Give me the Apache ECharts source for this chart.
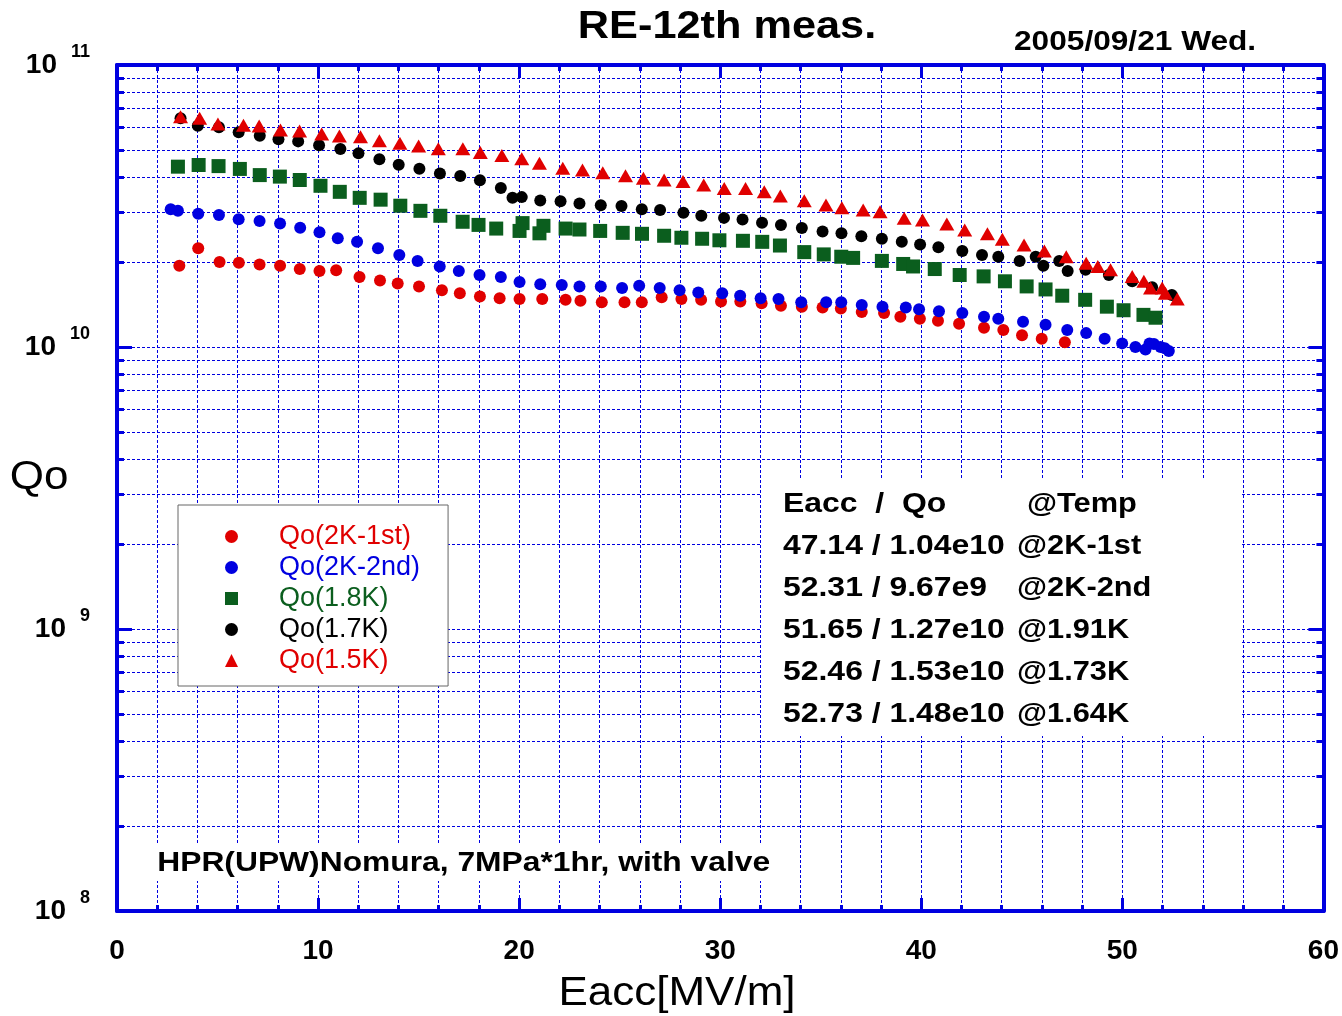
<!DOCTYPE html>
<html>
<head>
<meta charset="utf-8">
<title>RE-12th meas.</title>
<script src="https://cdn.jsdelivr.net/npm/echarts@6/dist/echarts.min.js"></script>
<style>
    html, body { margin: 0; padding: 0; background: #fff; }
    #main { width: 1342px; height: 1016px; }
</style>
</head>
<body>
<div id="main"></div>
<script>
// 测量数据 [Eacc(MV/m), Qo]
var qo2k1st = [
    [3.1, 1.94e10], [4.04, 2.24e10], [5.1, 2.00e10], [6.06, 1.99e10], [7.09, 1.96e10], [8.11, 1.94e10],
    [9.09, 1.89e10], [10.07, 1.86e10], [10.9, 1.87e10], [12.06, 1.77e10], [13.08, 1.72e10], [13.96, 1.68e10],
    [15.02, 1.64e10], [16.16, 1.59e10], [17.05, 1.55e10], [18.05, 1.51e10], [19.03, 1.49e10], [20.02, 1.48e10],
    [21.15, 1.48e10], [22.31, 1.47e10], [23.05, 1.46e10], [24.11, 1.44e10], [25.24, 1.44e10], [26.1, 1.44e10],
    [27.09, 1.50e10], [28.07, 1.48e10], [29.05, 1.47e10], [30.04, 1.45e10], [31.0, 1.45e10], [32.06, 1.43e10],
    [33.02, 1.40e10], [34.06, 1.39e10], [35.09, 1.38e10], [36.0, 1.37e10], [37.04, 1.33e10], [38.15, 1.32e10],
    [38.96, 1.28e10], [39.93, 1.26e10], [40.83, 1.24e10], [41.88, 1.21e10], [43.12, 1.17e10], [44.08, 1.15e10],
    [45.01, 1.10e10], [45.99, 1.07e10], [47.14, 1.04e10]
];
var qo2k2nd = [
    [2.67, 3.08e10], [3.03, 3.04e10], [4.04, 2.97e10], [5.07, 2.94e10], [6.05, 2.84e10], [7.09, 2.80e10],
    [8.11, 2.74e10], [9.11, 2.65e10], [10.07, 2.55e10], [10.98, 2.43e10], [11.94, 2.36e10], [12.98, 2.24e10],
    [14.04, 2.12e10], [14.95, 2.02e10], [16.05, 1.93e10], [17.0, 1.86e10], [18.03, 1.80e10], [19.09, 1.77e10],
    [20.02, 1.70e10], [21.05, 1.67e10], [22.12, 1.66e10], [23.0, 1.64e10], [24.06, 1.64e10], [25.12, 1.62e10],
    [25.97, 1.65e10], [26.99, 1.62e10], [27.98, 1.59e10], [28.91, 1.56e10], [30.1, 1.55e10], [30.99, 1.52e10],
    [32.01, 1.49e10], [32.9, 1.48e10], [34.03, 1.44e10], [35.27, 1.44e10], [36.02, 1.44e10], [37.04, 1.41e10],
    [38.07, 1.39e10], [39.23, 1.38e10], [39.89, 1.36e10], [40.88, 1.34e10], [42.04, 1.32e10], [43.12, 1.28e10],
    [43.83, 1.26e10], [45.06, 1.23e10], [46.18, 1.20e10], [47.26, 1.15e10], [48.2, 1.12e10], [49.12, 1.07e10],
    [49.99, 1.03e10], [50.65, 1.00e10], [51.15, 9.8e9], [51.35, 1.03e10], [51.57, 1.025e10], [51.9, 1.00e10],
    [52.11, 9.9e9], [52.31, 9.67e9]
];
var qo18k = [
    [3.03, 4.36e10], [4.06, 4.42e10], [5.05, 4.38e10], [6.11, 4.28e10], [7.1, 4.07e10], [8.1, 4.02e10],
    [9.09, 3.91e10], [10.12, 3.73e10], [11.08, 3.55e10], [12.07, 3.38e10], [13.11, 3.33e10], [14.09, 3.17e10],
    [15.09, 3.04e10], [16.08, 2.92e10], [17.19, 2.78e10], [17.98, 2.71e10], [18.86, 2.63e10], [20.02, 2.58e10],
    [20.17, 2.75e10], [21.01, 2.53e10], [21.21, 2.69e10], [22.31, 2.63e10], [23.0, 2.61e10], [24.03, 2.58e10],
    [25.15, 2.54e10], [26.11, 2.52e10], [27.21, 2.48e10], [28.07, 2.44e10], [29.1, 2.42e10], [29.96, 2.39e10],
    [31.13, 2.38e10], [32.09, 2.36e10], [32.97, 2.29e10], [34.18, 2.17e10], [35.15, 2.13e10], [36.02, 2.09e10],
    [36.61, 2.07e10], [38.04, 2.02e10], [39.1, 1.97e10], [39.59, 1.93e10], [40.67, 1.89e10], [41.91, 1.80e10],
    [43.1, 1.78e10], [44.16, 1.71e10], [45.24, 1.64e10], [46.18, 1.60e10], [47.01, 1.52e10], [48.15, 1.47e10],
    [49.23, 1.39e10], [50.06, 1.35e10], [51.05, 1.30e10], [51.65, 1.27e10]
];
var qo17k = [
    [3.16, 6.47e10], [4.02, 6.09e10], [5.07, 6.01e10], [6.05, 5.77e10], [7.1, 5.61e10], [8.03, 5.45e10],
    [9.01, 5.36e10], [10.05, 5.19e10], [11.11, 5.04e10], [12.01, 4.86e10], [13.05, 4.63e10], [14.01, 4.43e10],
    [15.04, 4.29e10], [16.06, 4.12e10], [17.07, 4.04e10], [18.05, 3.90e10], [19.09, 3.66e10], [19.67, 3.38e10],
    [20.13, 3.40e10], [21.05, 3.31e10], [22.06, 3.29e10], [23.0, 3.23e10], [24.06, 3.18e10], [25.09, 3.16e10],
    [26.1, 3.08e10], [27.01, 3.06e10], [28.17, 2.99e10], [29.06, 2.92e10], [30.19, 2.87e10], [31.11, 2.83e10],
    [32.08, 2.76e10], [33.02, 2.71e10], [34.06, 2.64e10], [35.09, 2.57e10], [36.03, 2.53e10], [37.02, 2.47e10],
    [38.04, 2.42e10], [39.03, 2.36e10], [39.94, 2.31e10], [40.85, 2.26e10], [42.04, 2.19e10], [43.02, 2.12e10],
    [43.83, 2.09e10], [44.89, 2.02e10], [45.69, 2.09e10], [46.07, 1.94e10], [46.86, 2.02e10], [47.28, 1.86e10],
    [48.17, 1.88e10], [49.33, 1.80e10], [50.49, 1.71e10], [51.48, 1.63e10], [52.46, 1.53e10]
];
var qo15k = [
    [3.16, 6.56e10], [4.11, 6.47e10], [5.02, 6.18e10], [6.29, 6.12e10], [7.07, 6.08e10], [8.13, 5.88e10],
    [9.08, 5.83e10], [10.18, 5.69e10], [11.06, 5.60e10], [12.11, 5.57e10], [13.05, 5.39e10], [14.07, 5.28e10],
    [15.0, 5.16e10], [15.98, 5.05e10], [17.2, 5.05e10], [18.07, 4.89e10], [19.14, 4.78e10], [20.13, 4.65e10],
    [21.01, 4.48e10], [22.17, 4.30e10], [23.15, 4.24e10], [24.16, 4.15e10], [25.29, 4.05e10], [26.18, 3.97e10],
    [27.21, 3.91e10], [28.15, 3.86e10], [29.18, 3.75e10], [30.2, 3.65e10], [31.26, 3.65e10], [32.19, 3.55e10],
    [32.99, 3.43e10], [34.18, 3.30e10], [35.26, 3.19e10], [36.05, 3.12e10], [37.11, 3.06e10], [37.95, 3.02e10],
    [39.15, 2.86e10], [40.06, 2.82e10], [41.27, 2.73e10], [42.16, 2.60e10], [43.29, 2.52e10], [44.03, 2.41e10],
    [45.11, 2.30e10], [46.12, 2.19e10], [47.21, 2.09e10], [48.2, 1.98e10], [48.78, 1.93e10], [49.41, 1.88e10],
    [50.49, 1.78e10], [51.07, 1.71e10], [51.4, 1.62e10], [51.98, 1.62e10], [52.14, 1.55e10], [52.73, 1.48e10]
];

var seriesNames = ['Qo(2K-1st)', 'Qo(2K-2nd)', 'Qo(1.8K)', 'Qo(1.7K)', 'Qo(1.5K)'];
var seriesData = [qo2k1st, qo2k2nd, qo18k, qo17k, qo15k];
var seriesColors = ['#e00000', '#0000e0', '#0b5e1e', '#000000', '#e00000'];
var seriesSymbols = ['circle', 'circle', 'rect', 'circle', 'triangle'];
var seriesSizes = [12, 12, 14, 12, [15, 13]];

// 结果表
var resultEacc = ['47.14', '52.31', '51.65', '52.46', '52.73'];
var resultQo = ['1.04e10', '9.67e9', '1.27e10', '1.53e10', '1.48e10'];
var resultTemp = ['@2K-1st', '@2K-2nd', '@1.91K', '@1.73K', '@1.64K'];

var FONT = 'Liberation Sans, Arial, sans-serif';
var AXIS_BLUE = '#0000e0';

var myChart = echarts.init(document.getElementById('main'));

var leftLines = ['Eacc  /  Qo'];
resultEacc.forEach(function (e, i) {
    leftLines.push(e + ' / ' + resultQo[i]);
});

function xAxisOf(pos, main) {
    return {
        type: 'value',
        position: pos,
        min: 0,
        max: 60,
        interval: 10,
        axisLine: { show: true, onZero: false, lineStyle: { color: AXIS_BLUE, width: 4 } },
        axisTick: { show: true, inside: true, length: 13, lineStyle: { color: AXIS_BLUE, width: 3 } },
        minorTick: { show: true, splitNumber: 5, length: 6, lineStyle: { color: AXIS_BLUE, width: 3 } },
        axisLabel: {
            show: main, margin: 26,
            fontFamily: FONT, fontSize: 28, fontWeight: 'bold', color: '#000'
        },
        splitLine: { show: main, lineStyle: { color: AXIS_BLUE, width: 1, type: [3, 2] } },
        minorSplitLine: { show: main, lineStyle: { color: AXIS_BLUE, width: 1, type: [3, 2] } }
    };
}

function yAxisOf(pos, main) {
    return {
        type: 'log',
        logBase: 10,
        position: pos,
        min: 1e8,
        max: 1e11,
        axisLine: { show: true, onZero: false, lineStyle: { color: AXIS_BLUE, width: 4 } },
        axisTick: { show: true, inside: true, length: 15, lineStyle: { color: AXIS_BLUE, width: 3 } },
        minorTick: { show: true, splitNumber: 9, length: 7, lineStyle: { color: AXIS_BLUE, width: 3 } },
        axisLabel: {
            show: main, margin: 27,
            formatter: function (v) {
                return '{a|10}{b|' + Math.round(Math.log10(v)) + '}';
            },
            rich: {
                a: { fontFamily: FONT, fontSize: 28, fontWeight: 'bold', color: '#000' },
                b: { fontFamily: FONT, fontSize: 18, fontWeight: 'bold', color: '#000', padding: [0, 0, 26, 14] }
            }
        },
        splitLine: { show: main, lineStyle: { color: AXIS_BLUE, width: 1, type: [3, 2] } },
        minorSplitLine: { show: main, lineStyle: { color: AXIS_BLUE, width: 1, type: [3, 2] } }
    };
}

// 文字(横向拉宽以贴近原图字形)
function label(x, y, text, size, bold, sx, extra) {
    var style = {
        text: text, fontFamily: FONT, fontSize: size, fontWeight: bold ? 'bold' : 'normal',
        fill: '#000', verticalAlign: 'middle'
    };
    for (var k in extra) {
        style[k] = extra[k];
    }
    return { type: 'text', z: 6, x: x, y: y, scaleX: sx, style: style };
}

var option = {
    animation: false,
    backgroundColor: '#fff',
    grid: { left: 117, top: 65, right: 17, bottom: 105 },
    xAxis: [xAxisOf('bottom', true), xAxisOf('top', false)],
    yAxis: [yAxisOf('left', true), yAxisOf('right', false)],
    legend: {
        orient: 'vertical',
        left: 178,
        top: 505,
        padding: [18, 28, 12, 47],
        itemGap: 4,
        itemWidth: 13,
        itemHeight: 13,
        backgroundColor: '#fff',
        borderColor: '#666',
        borderWidth: 1,
        textStyle: { fontFamily: FONT, fontSize: 27, lineHeight: 25, padding: [0, 0, 0, 36] },
        data: seriesNames.map(function (name, i) {
            return {
                name: name,
                icon: seriesSymbols[i],
                itemStyle: { color: seriesColors[i] },
                textStyle: { color: seriesColors[i] }
            };
        })
    },
    graphic: [
        // 结果表背景
        { type: 'rect', z: 5, shape: { x: 762, y: 480, width: 478, height: 256 }, style: { fill: '#fff' } },
        label(783, 483, leftLines.join('\n'), 28, true, 1.14, { verticalAlign: 'top', lineHeight: 42 }),
        label(1027, 483, '@Temp', 28, true, 1.1, { verticalAlign: 'top', lineHeight: 42 }),
        label(1017, 525, resultTemp.join('\n'), 28, true, 1.1, { verticalAlign: 'top', lineHeight: 42 }),
        label(155, 863, 'HPR(UPW)Nomura, 7MPa*1hr, with valve', 28, true, 1.135,
            { backgroundColor: '#fff', padding: [4, 2, 4, 2] }),
        label(727, 27, 'RE-12th meas.', 39, true, 1.11, { align: 'center' }),
        label(1014, 42, '2005/09/21 Wed.', 28, true, 1.13, {}),
        label(677, 994, 'Eacc[MV/m]', 40, false, 1.1, { align: 'center' }),
        label(39, 478, 'Qo', 40, false, 1.1, { align: 'center' })
    ],
    series: seriesNames.map(function (name, i) {
        return {
            name: name,
            type: 'scatter',
            xAxisIndex: 0,
            yAxisIndex: 0,
            symbol: seriesSymbols[i],
            symbolSize: seriesSizes[i],
            itemStyle: { color: seriesColors[i], opacity: 1 },
            data: seriesData[i]
        };
    })
};

myChart.setOption(option);
</script>
</body>
</html>
